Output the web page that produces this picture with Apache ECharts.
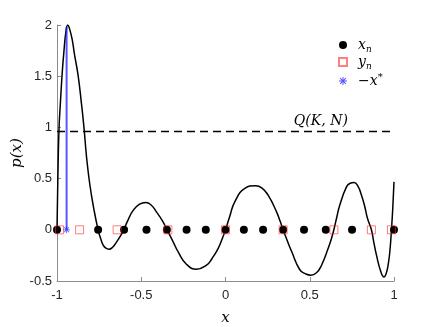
<!DOCTYPE html>
<html>
<head>
<meta charset="utf-8">
<script src="https://cdn.jsdelivr.net/npm/echarts@6/dist/echarts.min.js"></script>
<style>
  html, body { margin: 0; padding: 0; background: #fff; }
  #chart { width: 436px; height: 327px; }
</style>
</head>
<body>
<div id="chart"></div>
<script>
// curve p(x)
var curveX = [-1, -0.995, -0.988, -0.98, -0.97, -0.96, -0.946, -0.936, -0.925, -0.91, -0.897, -0.875, -0.855, -0.84, -0.824, -0.805, -0.782, -0.756,
  -0.74, -0.726, -0.71, -0.691, -0.67, -0.647, -0.625, -0.604,
  -0.58, -0.548, -0.51, -0.473, -0.44, -0.41, -0.375, -0.347,
  -0.31, -0.281, -0.232, -0.172, -0.113, -0.08, -0.044, -0.02, 0,
  0.025, 0.055, 0.115, 0.178, 0.215, 0.253, 0.303, 0.325, 0.342,
  0.365, 0.392, 0.441, 0.475, 0.506, 0.54, 0.57, 0.609, 0.628, 0.643,
  0.66, 0.678, 0.718, 0.74, 0.763, 0.785, 0.807, 0.826, 0.843, 0.866,
  0.88, 0.896, 0.922, 0.941, 0.953, 0.965, 0.976, 0.985, 0.993, 1];
var curveY = [0, 0.5, 0.99, 1.235, 1.51, 1.72, 1.95, 2.0, 1.96, 1.86, 1.72, 1.51, 1.235, 1.0, 0.7, 0.44, 0.21, 0,
  -0.09, -0.15, -0.18, -0.19, -0.17, -0.12, -0.065, 0,
  0.09, 0.19, 0.25, 0.267, 0.24, 0.175, 0.09, 0,
  -0.12, -0.216, -0.336, -0.385, -0.346, -0.28, -0.183, -0.09, 0,
  0.13, 0.273, 0.404, 0.43, 0.41, 0.338, 0.175, 0.08, 0,
  -0.1, -0.21, -0.39, -0.43, -0.444, -0.42, -0.346, -0.183, -0.09, 0,
  0.12, 0.24, 0.419, 0.455, 0.462, 0.43, 0.338, 0.23, 0.11, 0,
  -0.12, -0.248, -0.41, -0.46, -0.43, -0.346, -0.2, 0, 0.22, 0.468];
// nodes
var xn = [-1, -0.756, -0.602, -0.469, -0.348, -0.231, -0.117, 0, 0.109, 0.223, 0.342, 0.466, 0.595, 0.751, 1];
var yn = [-0.985, -0.866, -0.643, -0.342, 0, 0.342, 0.643, 0.866, 0.985];
var xStar = -0.943;
var starTop = 1.98;
var Q = 0.96;
var xTicks = [-1, -0.5, 0, 0.5, 1];
var yTicks = [-0.5, 0, 0.5, 1, 1.5, 2];

var serif = 'DejaVu Serif';
var labelFont = 'Liberation Sans';
var star = 'path://M-10,-1.2 L10,-1.2 L10,1.2 L-10,1.2 Z M-1.2,-10 L1.2,-10 L1.2,10 L-1.2,10 Z M-6.22,-7.92 L7.92,6.22 L6.22,7.92 L-7.92,-6.22 Z M7.92,-6.22 L-6.22,7.92 L-7.92,6.22 L6.22,-7.92 Z';

var legendText = {
  'xn': '{g|}{m|x}{s|n}',
  'yn': '{g|}{m|y}{s|n}',
  'xs': '{g|}{m|−x}{p|*}'
};

var chart = echarts.init(document.getElementById('chart'), null, { renderer: 'canvas' });

var option = {
  animation: false,
  backgroundColor: '#fff',
  grid: { left: 57, right: 42, top: 25, bottom: 46, containLabel: false, outerBoundsMode: 'none' },
  legend: {
    data: ['xn', 'yn', 'xs'],
    orient: 'vertical',
    left: 333,
    top: 33,
    itemWidth: 8,
    itemHeight: 8,
    itemGap: 1,
    formatter: function (name) { return legendText[name]; },
    textStyle: {
      rich: {
        g: { width: 6, lineHeight: 18 },
        m: { fontFamily: serif, fontStyle: 'italic', fontSize: 14, color: '#000', lineHeight: 18, verticalAlign: 'middle' },
        s: { fontFamily: serif, fontStyle: 'italic', fontSize: 9, color: '#000', lineHeight: 18, verticalAlign: 'bottom' },
        p: { fontFamily: serif, fontSize: 10, color: '#000', lineHeight: 18, verticalAlign: 'top' }
      }
    }
  },
  xAxis: {
    type: 'value',
    min: xTicks[0],
    max: xTicks[xTicks.length - 1],
    interval: 0.5,
    name: 'x',
    nameLocation: 'middle',
    nameGap: 30,
    nameMoveOverlap: false,
    nameTextStyle: { fontFamily: serif, fontStyle: 'italic', fontSize: 15, color: '#000' },
    axisLine: { onZero: false, lineStyle: { color: '#8c8c8c', width: 1 } },
    axisTick: { inside: true, length: 4, lineStyle: { color: '#8c8c8c' } },
    axisLabel: { margin: 8, fontFamily: labelFont, fontSize: 13, color: '#262626' },
    splitLine: { show: false }
  },
  yAxis: {
    type: 'value',
    min: yTicks[0],
    max: yTicks[yTicks.length - 1],
    interval: 0.5,
    name: 'p(x)',
    nameLocation: 'middle',
    nameGap: 32,
    nameMoveOverlap: false,
    nameRotate: 90,
    nameTextStyle: { fontFamily: serif, fontStyle: 'italic', fontSize: 15, color: '#000' },
    axisLine: { show: true, onZero: false, lineStyle: { color: '#8c8c8c', width: 1 } },
    axisTick: { show: true, inside: true, length: 4, lineStyle: { color: '#8c8c8c' } },
    axisLabel: { margin: 5, fontFamily: labelFont, fontSize: 13, color: '#262626' },
    splitLine: { show: false }
  },
  series: [
    {
      name: 'p',
      type: 'line',
      data: curveX.map(function (x, i) { return [x, curveY[i]]; }),
      showSymbol: false,
      smooth: 0.5,
      lineStyle: { color: '#000', width: 1.5 },
      z: 2
    },
    {
      name: 'Q',
      type: 'line',
      data: [[xTicks[0], Q], [xTicks[xTicks.length - 1], Q]],
      showSymbol: false,
      lineStyle: { color: '#000', width: 1.3, type: [8, 5] },
      markPoint: {
        symbol: 'circle',
        symbolSize: 0,
        data: [{ coord: [0.566, Q] }],
        label: {
          show: true,
          formatter: 'Q(K, N)',
          offset: [0, -10],
          fontFamily: serif,
          fontStyle: 'italic',
          fontSize: 14,
          color: '#000'
        }
      },
      z: 2
    },
    {
      name: 'xsLine',
      type: 'line',
      data: [[xStar, 0], [xStar, starTop]],
      showSymbol: false,
      lineStyle: { color: 'rgba(30,30,255,0.75)', width: 2 },
      z: 3
    },
    {
      name: 'xn',
      type: 'scatter',
      data: xn.map(function (x) { return [x, 0]; }),
      symbol: 'circle',
      symbolSize: 8,
      itemStyle: { color: '#000', opacity: 1 },
      z: 4
    },
    {
      name: 'yn',
      type: 'scatter',
      data: yn.map(function (x) { return [x, 0]; }),
      symbol: 'rect',
      symbolSize: 8,
      itemStyle: { color: 'rgba(255,255,255,0)', borderColor: 'rgba(255,40,40,0.6)', borderWidth: 1, opacity: 1 },
      z: 5
    },
    {
      name: 'xs',
      type: 'scatter',
      data: [[xStar, 0]],
      symbol: star,
      symbolSize: 7,
      itemStyle: { color: 'rgba(40,40,255,0.8)', opacity: 1 },
      z: 6
    }
  ]
};

chart.setOption(option);
</script>
</body>
</html>
